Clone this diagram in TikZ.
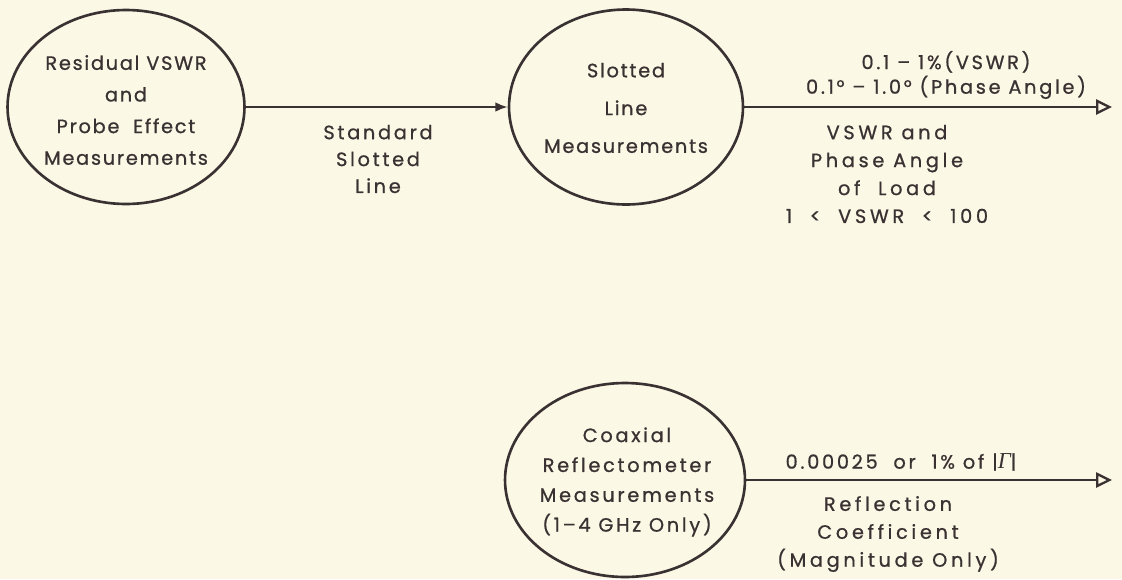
\documentclass[tikz,border=0pt]{standalone}
\usepackage{fontspec}
\setmainfont{Poppins}[LetterSpace=9,FakeBold=0.8]
\newfontfamily\midfont{Poppins}[LetterSpace=14,FakeBold=0.8]
\newfontfamily\widefont{Poppins}[LetterSpace=19,FakeBold=0.8]
\newfontfamily\gammafont{Liberation Serif}
\usetikzlibrary{arrows.meta,shapes.geometric}
\definecolor{ChartInk}{HTML}{3A3232}
\definecolor{ChartPaper}{HTML}{FCF8E6}

\begin{document}
\begin{tikzpicture}[x=0.02cm,y=-0.02cm,line cap=round,line join=round,
  meas/.style={ellipse,draw=ChartInk,line width=1.5pt,inner sep=0pt},
  flow/.style={draw=ChartInk,line width=1.3pt},
  lbl/.style={align=center,text=ChartInk,inner sep=0pt}]
  \fill[ChartPaper] (0,0) rectangle (1122,579);
  \useasboundingbox (0,0) rectangle (1122,579);
  % measurement stages
  \node[meas,minimum width=4.74cm,minimum height=3.88cm] (resid) at (126,107) {};
  \node[lbl,font=\fontsize{11}{18}\selectfont] (residtxt) at (126,110)
    {Residual VSWR\\and\\Probe\ \ Effect\\Measurements};
  \node[meas,minimum width=4.68cm,minimum height=3.9cm] (slot) at (626,107) {};
  \node[lbl,font=\fontsize{11}{21.5}\selectfont] (slottxt) at (626,108)
    {Slotted\\Line\\Measurements};
  \node[meas,minimum width=4.8cm,minimum height=3.88cm] (coax) at (625,480) {};
  \node[lbl,font=\midfont\fontsize{11}{17}\selectfont] (coaxtxt) at (627,482)
    {Coaxial\\Reflectometer\\Measurements\\(1–4 GHz Only)};
  \coordinate (slotout) at (1112,107);
  \coordinate (coaxout) at (1112,480);
  % connectors
  \draw[flow,-{Latex[length=7pt,width=5.5pt]}] (resid) -- (slot);
  \draw[flow,-{Triangle[open,length=9pt,width=8.5pt]}] (slot) -- (slotout);
  \draw[flow,-{Triangle[open,length=9pt,width=8.5pt]}] (coax) -- (coaxout);
  % labels
  \node[lbl,font=\midfont\fontsize{11}{15.3}\selectfont] (stdline) at (378,159)
    {Standard\\Slotted\\Line};
  \node[lbl,font=\midfont\fontsize{11}{14}\selectfont] (slotacc) at (946,75)
    {0.1 – 1\%(VSWR)\\0.1° – 1.0° (Phase Angle)};
  \node[lbl,font=\widefont\fontsize{11}{15.9}\selectfont] (slotqty) at (887,174)
    {VSWR and\\Phase Angle\\of\ \ Load\\1\ \ <\ \ VSWR\ \ <\ \ 100};
  \node[lbl,font=\midfont\fontsize{11}{14}\selectfont] (coaxacc) at (901,462)
    {0.00025\ \ or\ \ 1\% of |{\gammafont\itshape\fontsize{13}{14}\selectfont Γ}|};
  \node[lbl,font=\widefont\fontsize{11}{15.9}\selectfont] (coaxqty) at (888,534)
    {Reflection\\Coefficient\\(Magnitude Only)};
\end{tikzpicture}
\end{document}
